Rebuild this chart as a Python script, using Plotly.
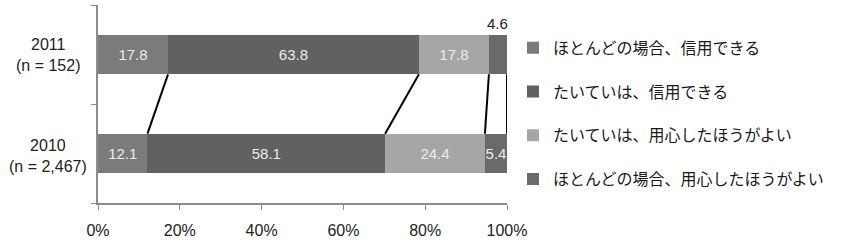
import plotly.graph_objects as go
import numpy as np

categories = ["2010", "2011"]
cat_labels = ["2010<br>(n = 2,467)", "2011<br>(n = 152)"]
series_names = ["ほとんどの場合、信用できる", "たいていは、信用できる",
                "たいていは、用心したほうがよい", "ほとんどの場合、用心したほうがよい"]
v2010 = [12.1, 58.1, 24.4, 5.4]
v2011 = [17.8, 63.8, 17.8, 4.6]
colors = ["#7b7b7b", "#616161", "#a6a6a6", "#6a6a6a"]
xticks = [0, 20, 40, 60, 80, 100]
xticktext = [f"{t}%" for t in xticks]

BAR_W = 0.4
LAT = "Liberation Sans, Noto Sans CJK JP, sans-serif"
JP = "Noto Sans CJK JP, sans-serif"

fig = go.Figure()
for i, name in enumerate(series_names):
    vals = [v2010[i], v2011[i]]
    texts = [f"{v:.1f}" for v in vals]
    if i == 3:
        texts[1] = ""
    fig.add_trace(go.Bar(
        y=categories, x=vals, orientation="h", name=name,
        marker=dict(color=colors[i], line=dict(width=0)),
        text=texts, textposition="inside", insidetextanchor="middle",
        textangle=0, constraintext="none",
        textfont=dict(color="#ececec", size=15, family=LAT),
        width=BAR_W, legendgroup=f"g{i}",
    ))

# series connection lines (normalized cumulative boundaries)
c10 = [float(v) for v in np.cumsum(v2010) / sum(v2010) * 100]
c11 = [float(v) for v in np.cumsum(v2011) / sum(v2011) * 100]
for a, b in zip(c11, c10):
    fig.add_trace(go.Scatter(
        x=[a, b], y=[1 - BAR_W / 2, 0 + BAR_W / 2], yaxis="y2",
        mode="lines", line=dict(color="black", width=2),
        showlegend=False, hoverinfo="skip", cliponaxis=False,
    ))

annotations = [dict(
    x=(c11[2] + c11[3]) / 2, y=1 + BAR_W / 2, yref="y2", xref="x",
    text=f"{v2011[3]:.1f}", showarrow=False,
    yanchor="bottom", yshift=1, font=dict(size=15, color="#222", family=LAT),
)]
for k, lab in enumerate(cat_labels):
    annotations.append(dict(
        x=0, xref="paper", xanchor="center", xshift=-50, y=k, yref="y2",
        yshift=-2 if k == 0 else 0,
        text=lab, showarrow=False, align="center",
        font=dict(size=16, color="#222", family=LAT),
    ))

fig.update_layout(
    width=846, height=242,
    margin=dict(l=98, r=339, t=5, b=39),
    barmode="stack", barnorm="percent",
    plot_bgcolor="white", paper_bgcolor="white",
    showlegend=True,
    annotations=annotations,
    uniformtext=dict(minsize=15, mode="show"),
    legend=dict(
        x=1.0 + 6 / 409, xanchor="left", xref="paper", y=0.87, yanchor="top",
        font=dict(size=16, color="#1a1a1a", family=JP),
        traceorder="grouped", tracegroupgap=20, itemwidth=30,
        bgcolor="rgba(0,0,0,0)",
    ),
    xaxis=dict(
        range=[0, 100], tickvals=xticks, ticktext=xticktext,
        ticks="outside", ticklen=5, tickcolor="#8c8c8c",
        showline=True, linecolor="#8c8c8c", linewidth=1.5,
        showgrid=False, zeroline=False, automargin=False,
        tickfont=dict(size=16, color="#222", family=LAT),
        ticklabelstandoff=7,
    ),
    yaxis=dict(
        type="category", categoryorder="array", categoryarray=categories,
        range=[-0.5, 1.5], tickson="boundaries", ticks="outside",
        ticklen=5, tickcolor="#8c8c8c", automargin=False,
        showline=True, linecolor="#8c8c8c", linewidth=1.5,
        showgrid=False, showticklabels=False,
    ),
    yaxis2=dict(
        overlaying="y", range=[-0.5, 1.5], visible=False,
    ),
)

fig.write_html("out.html")
